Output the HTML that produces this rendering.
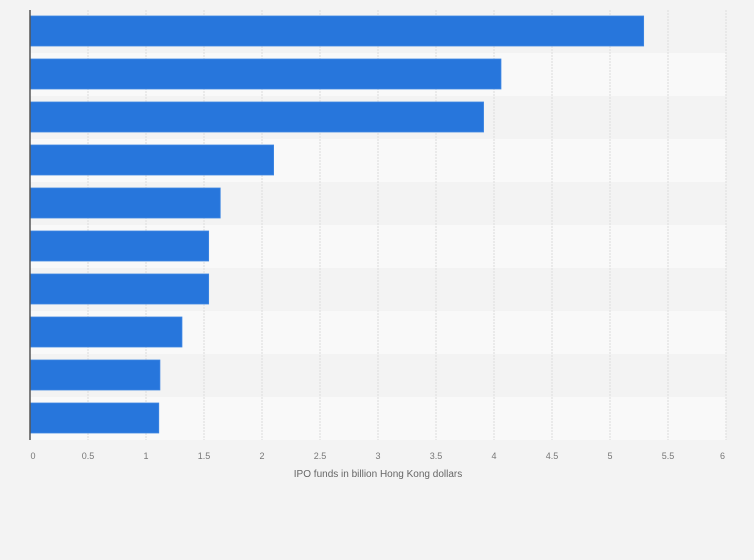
<!DOCTYPE html>
<html><head><meta charset="utf-8"><style>
body{margin:0;background:#f3f3f3;font-family:"Liberation Sans",sans-serif}
svg{display:block}
</style></head><body>
<svg id="c" width="754" height="560">
<rect width="754" height="560" fill="#f3f3f3"/>
<g id="bands"></g><g id="grid"></g><g id="bars"></g><g id="ticks"></g>
<line x1="30" y1="10" x2="30" y2="440" stroke="#555" stroke-width="1.5"/>
<text x="378" y="477" font-size="10" fill="#666" text-anchor="middle">IPO funds in billion Hong Kong dollars</text>
</svg>
<script>
const values=[5.29,4.06,3.91,2.10,1.64,1.54,1.54,1.31,1.12,1.11];
const tickValues=[0,0.5,1,1.5,2,2.5,3,3.5,4,4.5,5,5.5,6];
const tickLabels=["0","0.5","1","1.5","2","2.5","3","3.5","4","4.5","5","5.5","6"];
const NS="http://www.w3.org/2000/svg";
const x0=30,x1=726,plotTop=10,plotBot=440,band=(plotBot-plotTop)/values.length;
const xs=v=>x0+(v/6)*(x1-x0);
function mk(t,a,p){const e=document.createElementNS(NS,t);for(const k in a)e.setAttribute(k,a[k]);document.getElementById(p).appendChild(e);return e;}
values.forEach((v,i)=>{
 const b=mk('rect',{x:x0,y:plotTop+i*band,width:x1-x0,height:band,fill:i%2?'#f9f9f9':'#f3f3f3'},'bands');
 
 
});
tickValues.forEach((t,i)=>{
 if(i>0){const g=mk('line',{x1:xs(t),x2:xs(t),y1:plotTop,y2:plotBot,stroke:'#dcdcdc','stroke-dasharray':'2,1'},'grid');
 
 }
 const tx=mk('text',{x:xs(t)+(i==0?3:0),y:459,'font-size':9,fill:'#777','text-anchor':i==12?'end':'middle'},'ticks');
 if(i==12)tx.setAttribute('x',xs(t)-1);
 tx.textContent=tickLabels[i];
 
 
});
values.forEach((v,i)=>{
 const r=mk('rect',{x:x0,y:plotTop+i*band+6,width:xs(v)-x0,height:30,fill:'#2776dc',stroke:'#3f87e3','stroke-width':0.8},'bars');
 
 
});
</script>
</body></html>
